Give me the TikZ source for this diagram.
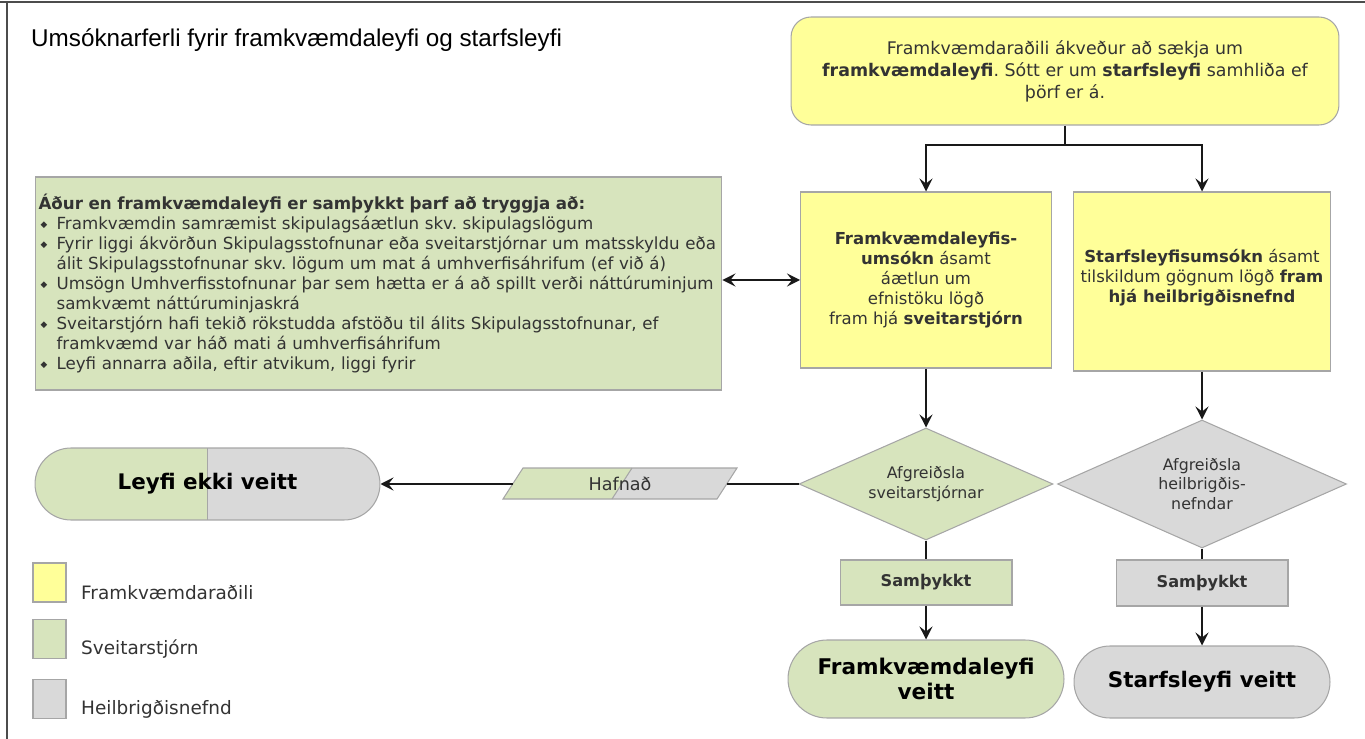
\documentclass[tikz,border=0pt]{standalone}
\usepackage{fontspec}
\setmainfont{DejaVu Sans}
\newfontfamily\titlefont{Liberation Sans}
\usetikzlibrary{arrows.meta,shapes.geometric,shapes.misc}

\definecolor{yel}{HTML}{FFFF99}
\definecolor{grn}{HTML}{D7E4BD}
\definecolor{gry}{HTML}{D9D9D9}
\definecolor{edge}{HTML}{A6A6A6}

\newcommand{\listbul}{\makebox[0.36cm][l]{\hspace{0.04cm}\raisebox{0.25ex}{\fontsize{5}{5}\selectfont ◆}}}
\newcommand{\listind}{\hspace*{0.36cm}}
\frenchspacing

\begin{document}
\begin{tikzpicture}[x=0.02cm, y=-0.02cm, >={Stealth[length=2.6mm, width=2.6mm, inset=1mm]},
  box/.style={draw=edge, line width=0.6pt, align=center, inner sep=0pt, text=black!80,
    font=\fontsize{9.4}{11.5}\selectfont},
  link/.style={line width=1pt, black!90}]
  \useasboundingbox (0,0) rectangle (1365,739);
  % frame and title
  \draw[black!70, line width=1pt] (0,2) -- (1365,2);
  \draw[black!70, line width=1pt] (7,2) -- (7,739);
  \node[anchor=base west, font=\titlefont\fontsize{13.8}{16}\selectfont] (title) at (25,47)
    {Umsóknarferli fyrir framkvæmdaleyfi og starfsleyfi};

  % boxes
  \node[box, fill=yel, rounded corners=0.4cm, minimum width=10.96cm, minimum height=2.16cm,
    font=\fontsize{9.9}{12.6}\selectfont] (top) at (1065,71)
    {Framkvæmdaraðili ákveður að sækja um\\ \textbf{framkvæmdaleyfi}. Sótt er um \textbf{starfsleyfi} samhliða ef\\ þörf er á.};
  \node[box, fill=yel, minimum width=5.02cm, minimum height=3.52cm] (appl) at (926,280)
    {\textbf{Framkvæmdaleyfis-}\\ \textbf{umsókn} ásamt\\ áætlun um\\ efnistöku lögð\\ fram hjá \textbf{sveitarstjórn}};
  \node[box, fill=yel, minimum width=5.14cm, minimum height=3.58cm] (perm) at (1202,281.5)
    {\textbf{Starfsleyfisumsókn} ásamt\\ tilskildum gögnum lögð \textbf{fram}\\ \textbf{hjá heilbrigðisnefnd}\\[-5pt]\mbox{}};
  \node[box, fill=grn, minimum width=13.74cm, minimum height=4.26cm, align=left, text width=13.6cm,
    inner xsep=0.07cm, font=\fontsize{9.5}{11.4}\selectfont] (info) at (378.5,283.5)
    {\textbf{Áður en framkvæmdaleyfi er samþykkt þarf að tryggja að:}\\
     \listbul Framkvæmdin samræmist skipulagsáætlun skv. skipulagslögum\\
     \listbul Fyrir liggi ákvörðun Skipulagsstofnunar eða sveitarstjórnar um matsskyldu eða\\
     \listind álit Skipulagsstofnunar skv. lögum um mat á umhverfisáhrifum (ef við á)\\
     \listbul Umsögn Umhverfisstofnunar þar sem hætta er á að spillt verði náttúruminjum\\
     \listind samkvæmt náttúruminjaskrá\\
     \listbul Sveitarstjórn hafi tekið rökstudda afstöðu til álits Skipulagsstofnunar, ef\\
     \listind framkvæmd var háð mati á umhverfisáhrifum\\
     \listbul Leyfi annarra aðila, eftir atvikum, liggi fyrir};

  % decisions
  \node[box, diamond, aspect=2.27, fill=grn, minimum width=5.08cm, minimum height=2.24cm,
    font=\fontsize{9}{11.3}\selectfont] (dL) at (926,484) {Afgreiðsla\\ sveitarstjórnar};
  \node[box, diamond, aspect=2.26, fill=gry, minimum width=5.78cm, minimum height=2.56cm,
    font=\fontsize{9}{11.3}\selectfont] (dR) at (1202,484) {Afgreiðsla\\ heilbrigðis-\\ nefndar};
  \node[box, fill=grn, minimum width=3.44cm, minimum height=0.9cm, font=\bfseries\fontsize{9.2}{11}\selectfont]
    (okL) at (926,582.5) {Samþykkt};
  \node[box, fill=gry, minimum width=3.44cm, minimum height=0.92cm, font=\bfseries\fontsize{9.2}{11}\selectfont]
    (okR) at (1202,583) {Samþykkt};

  % results
  \node[box, rounded rectangle, fill=grn, minimum width=5.52cm, minimum height=1.56cm, text=black,
    font=\bfseries\fontsize{12.3}{14}\selectfont] (endL) at (926,679) {Framkvæmdaleyfi\\ veitt};
  \node[box, rounded rectangle, fill=gry, minimum width=5.12cm, minimum height=1.44cm, text=black,
    font=\bfseries\fontsize{12.2}{14}\selectfont] (endR) at (1202,682) {Starfsleyfi veitt};
  \node[box, rounded rectangle, fill=gry, minimum width=6.9cm, minimum height=1.44cm, text=black,
    font=\bfseries\fontsize{12.2}{14}\selectfont,
    path picture={\fill[grn] (path picture bounding box.south west) rectangle (path picture bounding box.north);
      \draw[edge, line width=0.6pt] (path picture bounding box.north) -- (path picture bounding box.south);}]
    (pill) at (207.5,484) {Leyfi ekki veitt};

  % rejected
  \fill[gry] (503,499) -- (523,468) -- (737,468) -- (717,499) -- cycle;
  \fill[grn] (503,499) -- (523,468) -- (632,468) -- (612,499) -- cycle;
  \draw[edge, line width=0.6pt] (503,499) -- (523,468) -- (737,468) -- (717,499) -- cycle;
  \draw[edge, line width=0.6pt] (632,468) -- (612,499);
  \node[text=black!80, font=\fontsize{10}{11}\selectfont] (hafnad) at (620,484) {Hafnað};
  \coordinate (hafR) at (727,484);
  \coordinate (hafL) at (513,484);

  % legend
  \foreach \col/\lab/\y in {yel/Framkvæmdaraðili/582.5, grn/Sveitarstjórn/639, gry/Heilbrigðisnefnd/699}{
    \node[box, fill=\col, minimum width=0.66cm, minimum height=0.78cm] (key-\col) at (49.5,\y) {};
    \node[anchor=west, text=black!80, font=\fontsize{10.5}{12}\selectfont] (lab-\col) at (75,\y+10) {\lab};
  }

  % connectors
  \coordinate (split) at (1065,145);
  \draw[link] (top) -- (split);
  \draw[link, ->] (split) -| (appl.north);
  \draw[link, ->] (split) -| (perm.north);
  \draw[link, <->] (appl.west -| info.east) -- (appl.west);
  \draw[link, ->] (appl.south) -- (dL.north);
  \draw[link, ->] (perm.south) -- (dR.north);
  \draw[link] (dL.south) -- (okL.north);
  \draw[link] (dR.south) -- (okR.north);
  \draw[link, ->] (okL.south) -- (endL.north);
  \draw[link, ->] (okR.south) -- (endR.north);
  \draw[link] (dL.west) -- (hafR);
  \draw[link, ->] (hafL) -- (pill.east);
\end{tikzpicture}
\end{document}
